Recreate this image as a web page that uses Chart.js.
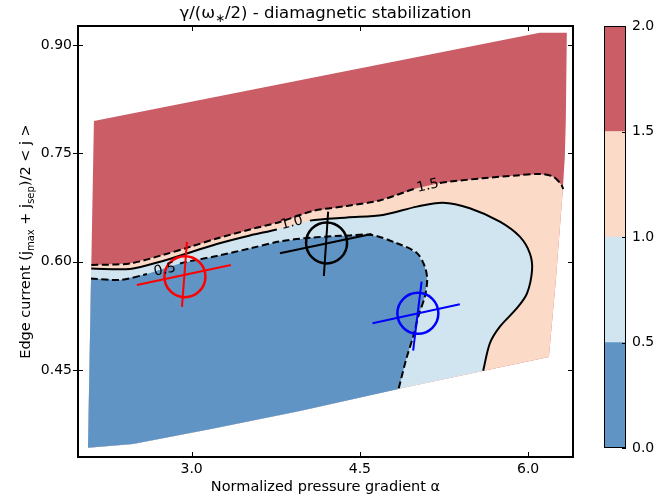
<!DOCTYPE html>
<html>
<head>
<meta charset="utf-8">
<script src="https://cdn.jsdelivr.net/npm/chart.js@4.4.1/dist/chart.umd.min.js"></script>
<style>
  html, body { margin: 0; padding: 0; background: #fff; }
  #wrap { position: relative; width: 672px; height: 499px; }
  #main { position: absolute; left: 0; top: 0; }
  #cbar { position: absolute; left: 590px; top: 0; }
</style>
</head>
<body>
<div id="wrap">
  <canvas id="main" width="672" height="499"></canvas>
  <canvas id="cbar" width="82" height="499"></canvas>
</div>
<script>
const xTicks = [3.0, 4.5, 6.0];
const yTicks = [0.45, 0.60, 0.75, 0.90];
const levels = [0.0, 0.5, 1.0, 1.5, 2.0];

// outline of the scanned (alpha, j) domain
const topEdge = [[2.129, 0.7949], [6.104, 0.9168], [6.345, 0.9168]];
const rightEdge = [[6.345, 0.9168], [6.336, 0.7963], [6.327, 0.7450], [6.309, 0.6993], [6.247, 0.5747], [6.185, 0.4680]];
const bottomEdge = [[6.185, 0.4680], [4.857, 0.4244], [3.965, 0.3932], [3.172, 0.3683], [2.477, 0.3475], [2.076, 0.3424]];

// contour lines, from the left edge to the right / bottom edge
const contour15 = [[2.106, 0.5954], [2.450, 0.5975], [2.744, 0.6093], [2.985, 0.6204], [3.225, 0.6321], [3.520, 0.6446],
  [3.787, 0.6550], [4.081, 0.6702], [4.384, 0.6771], [4.678, 0.6848], [4.999, 0.7014], [5.213, 0.7090], [5.302, 0.7108],
  [5.596, 0.7155], [5.899, 0.7194], [6.104, 0.7215], [6.220, 0.7180], [6.291, 0.7076], [6.314, 0.7007]];
const contour10 = [[2.105, 0.5906], [2.450, 0.5899], [2.744, 0.6010], [2.985, 0.6127], [3.225, 0.6245], [3.520, 0.6363],
  [3.760, 0.6446], [4.054, 0.6568], [4.384, 0.6612], [4.705, 0.6647], [5.008, 0.6762], [5.240, 0.6817], [5.480, 0.6740],
  [5.748, 0.6554], [5.926, 0.6346], [6.015, 0.6116], [6.035, 0.5885], [5.990, 0.5562], [5.900, 0.5355], [5.748, 0.5100],
  [5.659, 0.4870], [5.599, 0.4488]];
const contour05 = [[2.103, 0.5767], [2.361, 0.5747], [2.602, 0.5830], [2.896, 0.5975], [3.225, 0.6079], [3.520, 0.6183],
  [3.787, 0.6280], [4.081, 0.6335], [4.411, 0.6363], [4.607, 0.6370], [4.830, 0.6255], [5.008, 0.6120], [5.079, 0.5931],
  [5.100, 0.5747], [5.079, 0.5515], [5.020, 0.5238], [4.975, 0.4961], [4.916, 0.4666], [4.845, 0.4237]];

// inline contour labels
const labelText = ['1.5', '1.0', '0.5'];
const labelX = [5.106, 3.894, 2.762];
const labelY = [0.7048, 0.6536, 0.5885];

// operating points and their error crosses (two segments each)
const markerX = [2.940, 4.203, 5.017];
const markerY = [0.5792, 0.6259, 0.5285];
const redCross = [[2.512, 0.5677], [3.350, 0.5954], [2.958, 0.6273], [2.914, 0.5373]];
const blackCross = [[3.787, 0.6116], [4.604, 0.6384], [4.217, 0.6693], [4.179, 0.5802]];
const blueCross = [[4.613, 0.5147], [5.391, 0.5410], [5.050, 0.5723], [4.975, 0.4767]];

const bandColors = ['#6094c4', '#d1e5f0', '#fcdac8', '#ca5d65'];
const labelAngle = [-13, -15, -12];
const FONT = '"DejaVu Sans"';

Chart.defaults.font.family = FONT;
Chart.defaults.color = '#000';

const pts = arr => arr.map(([x, y]) => ({x, y}));
const last = arr => arr[arr.length - 1];

const domainPoly = topEdge.concat(rightEdge.slice(1), bottomEdge.slice(1));
const peachPoly = contour15.concat(rightEdge.filter(p => p[1] < last(contour15)[1]), bottomEdge.slice(1));
const lightPoly = contour10.concat(bottomEdge.filter(p => p[0] < last(contour10)[0]));
const bluePoly = contour05.concat(bottomEdge.filter(p => p[0] < last(contour05)[0]));

function fillSet(poly, color, order) {
    return {
        data: pts(poly), showLine: true, fill: 'shape', backgroundColor: color,
        borderColor: 'rgba(0,0,0,0)', borderWidth: 0, pointRadius: 0, tension: 0, order: order
    };
}

function contourSet(line, gapIdx, dashed) {
    return {
        data: pts(line), showLine: true, fill: false, borderColor: '#000', borderWidth: 2,
        borderDash: dashed ? [7, 3.5] : [], pointRadius: 0, tension: 0.3, order: 5,
        segment: { borderColor: c => c.p0DataIndex === gapIdx ? 'rgba(0,0,0,0)' : '#000' }
    };
}

function crossSets(c, color) {
    return [c.slice(0, 2), c.slice(2)].map(seg => ({
        data: pts(seg), showLine: true, fill: false, borderColor: color, borderWidth: 2,
        pointRadius: 0, tension: 0, order: 2
    }));
}

function drawRich(ctx, parts, x, y, size, angle) {
    ctx.save();
    ctx.translate(x, y);
    if (angle) ctx.rotate(angle);
    const big = size + 'px ' + FONT, small = Math.round(size * 0.7) + 'px ' + FONT;
    let w = 0;
    parts.forEach(p => { ctx.font = p.sub ? small : big; w += ctx.measureText(p.t).width; });
    let cx = -w / 2;
    ctx.fillStyle = '#000';
    ctx.textAlign = 'left';
    ctx.textBaseline = 'alphabetic';
    parts.forEach(p => {
        ctx.font = p.sub ? small : big;
        ctx.fillText(p.t, cx, p.sub ? size * 0.25 : 0);
        cx += ctx.measureText(p.t).width;
    });
    ctx.restore();
}

const decor = {
    id: 'decor',
    afterDatasetsDraw(chart) {
        const {ctx, scales: {x, y}} = chart;
        ctx.save();
        ctx.font = '14px ' + FONT;
        ctx.fillStyle = '#000';
        ctx.textAlign = 'center';
        ctx.textBaseline = 'middle';
        labelText.forEach((t, i) => {
            ctx.save();
            ctx.translate(x.getPixelForValue(labelX[i]), y.getPixelForValue(labelY[i]));
            ctx.rotate(labelAngle[i] * Math.PI / 180);
            ctx.fillText(t, 0, 0);
            ctx.restore();
        });
        ctx.restore();
    },
    afterDraw(chart) {
        const {ctx, chartArea: a, scales: {x, y}} = chart;
        ctx.save();
        ctx.strokeStyle = '#000';
        ctx.lineWidth = 1;
        const seg = (x1, y1, x2, y2) => { ctx.beginPath(); ctx.moveTo(x1, y1); ctx.lineTo(x2, y2); ctx.stroke(); };
        xTicks.forEach(v => {
            const px = Math.round(x.getPixelForValue(v)) + 0.5;
            seg(px, a.bottom, px, a.bottom - 5);
            seg(px, a.top, px, a.top + 5);
        });
        yTicks.forEach(v => {
            const py = Math.round(y.getPixelForValue(v)) + 0.5;
            seg(a.left - 5, py, a.left + 5, py);
            seg(a.right, py, a.right - 5, py);
        });
        ctx.lineWidth = 2;
        ctx.strokeRect(a.left, a.top, a.right - a.left, a.bottom - a.top);
        ctx.restore();

        drawRich(ctx, [{t: 'γ/(ω'}, {t: '∗', sub: true}, {t: '/2) - diamagnetic stabilization'}],
            (a.left + a.right) / 2, 18, 16.5, 0);
        drawRich(ctx, [{t: 'Edge current (j'}, {t: 'max', sub: true}, {t: ' + j'}, {t: 'sep', sub: true}, {t: ')/2 < j >'}],
            30, (a.top + a.bottom) / 2, 14.5, -Math.PI / 2);
    }
};

new Chart(document.getElementById('main'), {
    type: 'scatter',
    data: {
        datasets: [
            fillSet(domainPoly, bandColors[3], 10),
            fillSet(peachPoly, bandColors[2], 9),
            fillSet(lightPoly, bandColors[1], 8),
            fillSet(bluePoly, bandColors[0], 7),
            contourSet(contour15, 10, true),
            contourSet(contour10, 6, false),
            contourSet(contour05, 2, true),
            ...crossSets(redCross, '#ff0000'),
            ...crossSets(blackCross, '#000000'),
            ...crossSets(blueCross, '#0000ff'),
            {
                data: markerX.map((v, i) => ({x: v, y: markerY[i]})),
                showLine: false, pointRadius: 20.5, pointBorderWidth: 2.5,
                pointBackgroundColor: 'rgba(0,0,0,0)',
                pointBorderColor: ['#ff0000', '#000000', '#0000ff'], order: 1
            }
        ]
    },
    options: {
        responsive: false,
        animation: false,
        events: [],
        layout: { padding: { top: 26, right: 99, left: 0, bottom: 0 } },
        plugins: { legend: { display: false }, tooltip: { enabled: false } },
        scales: {
            x: {
                type: 'linear', min: 1.987, max: 6.4,
                afterBuildTicks: s => { s.ticks = xTicks.map(v => ({value: v})); },
                afterFit: s => { s.height = 42; },
                grid: { display: false, drawTicks: false },
                border: { display: false },
                ticks: { font: { size: 14 }, padding: 4, maxRotation: 0, autoSkip: false,
                         callback: v => v.toFixed(1) },
                title: { display: true, text: 'Normalized pressure gradient α', font: { size: 14.5 },
                         padding: { top: 0, bottom: 3 } }
            },
            y: {
                type: 'linear', min: 0.3295, max: 0.9263,
                afterBuildTicks: s => { s.ticks = yTicks.map(v => ({value: v})); },
                afterFit: s => { s.width = 78; },
                grid: { display: false, drawTicks: false },
                border: { display: false },
                ticks: { font: { size: 14 }, padding: 6, autoSkip: false,
                         callback: v => v.toFixed(2) }
            }
        }
    },
    plugins: [decor]
});

// colour bar
const cbarFrame = {
    id: 'cbarFrame',
    afterDraw(chart) {
        const {ctx, chartArea: a, scales: {y}} = chart;
        ctx.save();
        ctx.strokeStyle = '#000';
        ctx.lineWidth = 1;
        levels.forEach(v => {
            const py = Math.round(y.getPixelForValue(v)) + 0.5;
            ctx.beginPath(); ctx.moveTo(a.right, py); ctx.lineTo(a.right - 4, py); ctx.stroke();
        });
        ctx.strokeRect(a.left + 0.5, a.top + 0.5, a.right - a.left - 1, a.bottom - a.top - 1);
        ctx.restore();
    }
};

new Chart(document.getElementById('cbar'), {
    type: 'bar',
    data: {
        labels: [''],
        datasets: bandColors.map((c, i) => ({
            data: [levels[i + 1] - levels[i]], backgroundColor: c, borderWidth: 0,
            barPercentage: 1, categoryPercentage: 1, stack: 'bands'
        }))
    },
    options: {
        responsive: false,
        animation: false,
        events: [],
        layout: { padding: { top: 26, bottom: 51, left: 14, right: 0 } },
        plugins: { legend: { display: false }, tooltip: { enabled: false } },
        scales: {
            x: { display: false, stacked: true },
            y: {
                stacked: true, position: 'right', min: 0, max: 2,
                afterBuildTicks: s => { s.ticks = levels.map(v => ({value: v})); },
                afterFit: s => { s.width = 46; },
                grid: { display: false, drawTicks: false },
                border: { display: false },
                ticks: { font: { size: 14 }, padding: 6, callback: v => v.toFixed(1) }
            }
        }
    },
    plugins: [cbarFrame]
});
</script>
</body>
</html>
